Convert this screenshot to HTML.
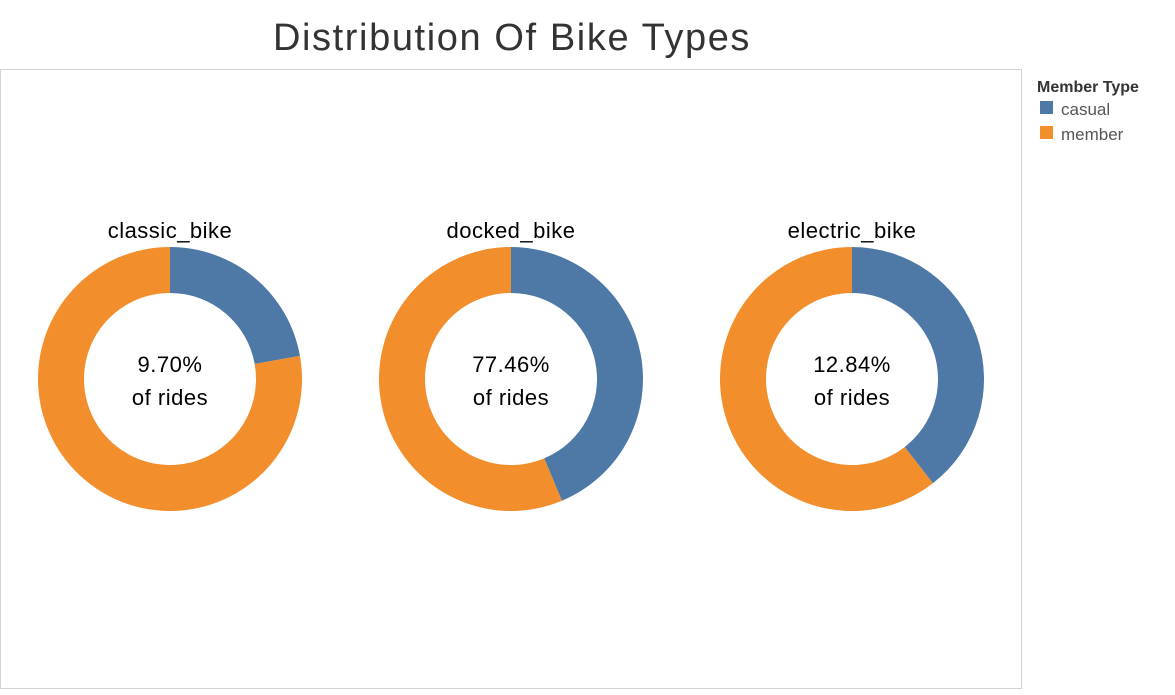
<!DOCTYPE html>
<html><head><meta charset="utf-8"><style>
body{margin:0;width:1175px;height:690px;background:#fff;font-family:"Liberation Sans",sans-serif;overflow:hidden}
</style></head><body>
<svg id="c" width="1175" height="690">
<text x="512" y="50" text-anchor="middle" font-size="38" letter-spacing="1.6" fill="#333">Distribution Of Bike Types</text>
<rect x="0.5" y="69.5" width="1021" height="619" fill="none" stroke="#d4d4d4"/>
<g>
<text x="1037" y="92" font-size="16" font-weight="bold" fill="#333">Member Type</text>
<rect x="1040" y="101" width="13" height="13" fill="#4e79a7"/>
<text x="1061" y="115" font-size="17" fill="#555">casual</text>
<rect x="1040" y="126" width="13" height="13" fill="#f28e2b"/>
<text x="1061" y="140" font-size="17" fill="#555">member</text>
</g>
</svg>
<script>
const categories=["classic_bike","docked_bike","electric_bike"];
const casualShare=[22.2,43.7,39.5];
const rideShareLabels=["9.70%","77.46%","12.84%"];
const svg=document.getElementById('c');
const NS="http://www.w3.org/2000/svg";
const cx0=170,dx=341,cy=379,R=132,r=86;
function xPos(i){return cx0+i*dx;}
function pt(cx,a,rad){return [cx+rad*Math.sin(a),cy-rad*Math.cos(a)];}
function arc(cx,a0,a1){
 const large=(a1-a0)>Math.PI?1:0;
 const [x1,y1]=pt(cx,a0,R),[x2,y2]=pt(cx,a1,R),[x3,y3]=pt(cx,a1,r),[x4,y4]=pt(cx,a0,r);
 return `M${x1},${y1}A${R},${R} 0 ${large} 1 ${x2},${y2}L${x3},${y3}A${r},${r} 0 ${large} 0 ${x4},${y4}Z`;
}
categories.forEach((c,i)=>{
 const cx=xPos(i);
 const a=casualShare[i]/100*2*Math.PI;
 const p1=document.createElementNS(NS,'path');
 p1.setAttribute('d',arc(cx,0,a));p1.setAttribute('fill','#4e79a7');
 
 
 svg.appendChild(p1);
 const p2=document.createElementNS(NS,'path');
 p2.setAttribute('d',arc(cx,a,2*Math.PI-0.0001));p2.setAttribute('fill','#f28e2b');
 
 
 svg.appendChild(p2);
 const t=document.createElementNS(NS,'text');
 t.setAttribute('x',cx);t.setAttribute('y',238);t.setAttribute('text-anchor','middle');t.setAttribute('font-size','22');t.setAttribute('letter-spacing','0.5');
 t.textContent=c;
 
 
 svg.appendChild(t);
 [rideShareLabels[i],'of rides'].forEach((s,k)=>{
  const l=document.createElementNS(NS,'text');
  l.setAttribute('x',cx);l.setAttribute('y',372+k*33);l.setAttribute('text-anchor','middle');l.setAttribute('font-size','22');l.setAttribute('letter-spacing','0.5');
  l.textContent=s;
  
  
  svg.appendChild(l);
 });
});
</script>
</body></html>
